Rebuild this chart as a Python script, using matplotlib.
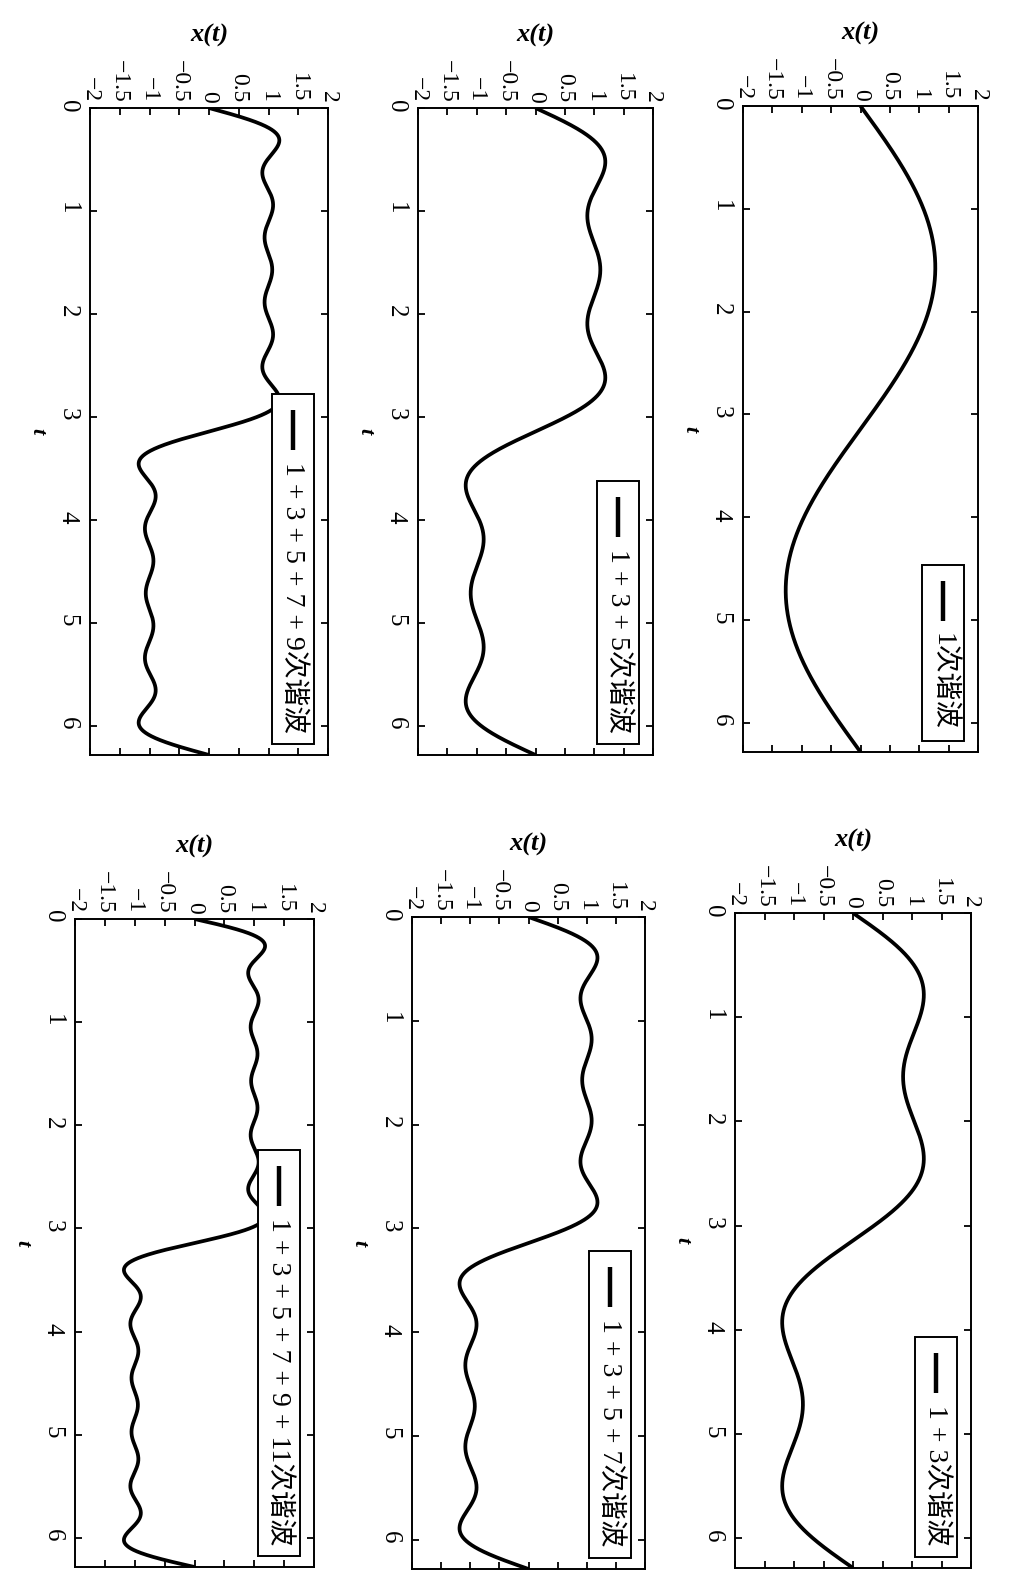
import numpy as np
import matplotlib
matplotlib.use("Agg")
import matplotlib.pyplot as plt
from matplotlib.patches import Rectangle
from matplotlib.lines import Line2D
from matplotlib.transforms import offset_copy

# ---------------- data ----------------
harmonic_orders = [1, 3, 5, 7, 9, 11]          # odd harmonics of the square wave
terms_per_panel = [1, 2, 3, 4, 5, 6]           # how many harmonics are summed in each panel
legend_labels = ["1次谐波", "1 + 3次谐波", "1 + 3 + 5次谐波",
                 "1 + 3 + 5 + 7次谐波", "1 + 3 + 5 + 7 + 9次谐波",
                 "1 + 3 + 5 + 7 + 9 + 11次谐波"]
square_amplitude = 1.0
x_ticks = [-2, -1.5, -1, -0.5, 0, 0.5, 1, 1.5, 2]
x_tick_labels = ["−2", "−1.5", "−1", "−0.5", "0", "0.5", "1", "1.5", "2"]
t_ticks = [0, 1, 2, 3, 4, 5, 6]
t_tick_labels = ["0", "1", "2", "3", "4", "5", "6"]
t_max = 2 * np.pi

# ---------------- layout (page is rotated 90° clockwise) ----------------
W, H, DPI = 1014, 1583, 100
# pixel boxes (left, top, right, bottom) for each panel, same order as data
boxes = [(743, 106, 978, 752),
         (735, 913, 971, 1568),
         (418, 108, 653, 755),
         (412, 917, 645, 1569),
         (90, 108, 328, 755),
         (75, 919, 314, 1567)]

SERIF = "Liberation Serif"
MIXED = ["Liberation Serif", "Noto Sans CJK SC"]

fig = plt.figure(figsize=(W / DPI, H / DPI), dpi=DPI)
fig.patch.set_facecolor("white")

t = np.linspace(0, t_max, 2000)
legend_items = []
for i, (l, tp, r, b) in enumerate(boxes):
    ax = fig.add_axes([l / W, 1 - b / H, (r - l) / W, (b - tp) / H])
    x = np.zeros_like(t)
    for k in harmonic_orders[:terms_per_panel[i]]:
        x += 4 * square_amplitude / (k * np.pi) * np.sin(k * t)
    ax.plot(x, t, color="black", lw=2.7, solid_capstyle="butt")
    ax.set_xlim(-2, 2)
    ax.set_ylim(t_max, 0)
    for s in ax.spines.values():
        s.set_linewidth(1.4)
    ax.set_xticks(x_ticks)
    ax.set_xticklabels(x_tick_labels, rotation=-90, fontfamily=SERIF, fontsize=17)
    ax.set_yticks(t_ticks)
    ax.set_yticklabels(t_tick_labels, rotation=-90, fontfamily=SERIF, fontsize=18)
    ax.tick_params(axis="both", direction="in", length=5, width=1.3,
                   top=True, bottom=True, left=True, right=True,
                   labeltop=True, labelbottom=False, labelleft=True)
    ax.tick_params(axis="x", pad=4)
    ax.tick_params(axis="y", pad=8)

    ax.set_xlabel("x(t)", fontfamily=SERIF, fontstyle="italic", fontweight="bold", fontsize=19)
    ax.xaxis.set_label_position("top")
    ax.xaxis.set_label_coords(0.5, 1 + 66 / (b - tp))

    ax.set_ylabel("t", fontfamily=SERIF, fontstyle="italic", fontweight="bold",
                  fontsize=16, rotation=-90)
    ax.yaxis.label.set_ha("center")
    ax.yaxis.label.set_va("center")
    ax.yaxis.label.set_rotation_mode("default")
    ax.yaxis.set_label_coords(-53 / (r - l), 0.5)

    tr = offset_copy(ax.transAxes, fig=fig, x=-35 * 72 / DPI, y=22 * 72 / DPI, units="points")
    txt = ax.text(1, 0, legend_labels[i], transform=tr, rotation=-90, ha="center", va="bottom",
                  fontfamily=MIXED, fontsize=20, zorder=7)
    legend_items.append((ax, txt))

fig.canvas.draw()
renderer = fig.canvas.get_renderer()
for ax, txt in legend_items:
    bb = txt.get_window_extent(renderer)
    xc = 0.5 * (bb.x0 + bb.x1)
    x0, x1 = xc - 21, xc + 21
    y0 = bb.y0 - 11
    line_lo = bb.y1 + 12
    line_hi = line_lo + 40
    y1 = line_hi + 16
    inv = ax.transAxes.inverted()
    (ax0, ay0), (ax1, ay1) = inv.transform([(x0, y0), (x1, y1)])
    (lx, ly0), (_, ly1) = inv.transform([(xc, line_lo), (xc, line_hi)])
    ax.add_patch(Rectangle((ax0, ay0), ax1 - ax0, ay1 - ay0, transform=ax.transAxes,
                           facecolor="white", edgecolor="black", lw=1.4, zorder=5, clip_on=False))
    ax.add_line(Line2D([lx, lx], [ly0, ly1], transform=ax.transAxes, color="black",
                       lw=3.2, solid_capstyle="butt", zorder=6, clip_on=False))

fig.savefig("out.png", dpi=DPI, facecolor="white")
